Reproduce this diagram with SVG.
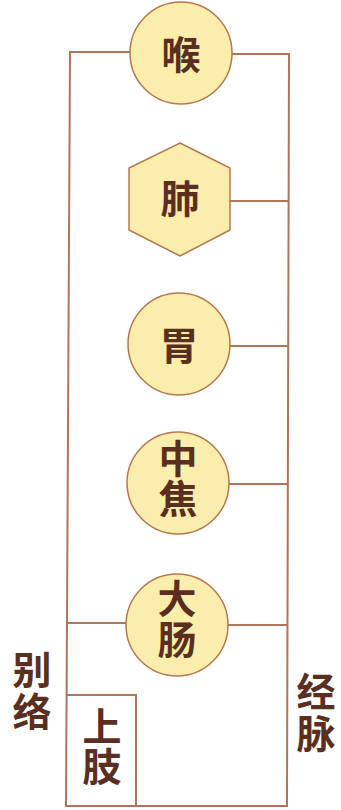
<svg xmlns="http://www.w3.org/2000/svg" width="341" height="810" viewBox="0 0 341 810">
<style>
.ln{fill:none;stroke:#b0735c;stroke-width:2}
.nd{fill:#fbeeac;stroke:#b5774f;stroke-width:1.5}
.t{font-family:"Liberation Serif","Noto Sans CJK SC",serif;font-size:39px;fill:#5a2f1f;text-anchor:middle;dominant-baseline:central;font-weight:600}
</style>
<rect width="341" height="810" fill="#ffffff"/>
<g id="connectors">
<polyline class="ln" points="130,52 70,52 66,806 287,806 289,54 232,54"/>
<line class="ln" x1="230" y1="201" x2="288" y2="201"/>
<line class="ln" x1="230" y1="346" x2="288" y2="346"/>
<line class="ln" x1="229" y1="484" x2="287" y2="484"/>
<line class="ln" x1="67" y1="623" x2="126" y2="623"/>
<line class="ln" x1="228" y1="625" x2="287" y2="625"/>
</g>
<g id="hou"><circle class="nd" cx="181" cy="53" r="51"/><text class="t" x="181" y="55">喉</text></g>
<g id="fei"><polygon class="nd" points="180,143 230,168 230,230 180,256 129,230 129,168"/><text class="t" x="180" y="199">肺</text></g>
<g id="wei"><circle class="nd" cx="179" cy="344" r="51"/><text class="t" x="179" y="346">胃</text></g>
<g id="zhongjiao"><circle class="nd" cx="178" cy="483" r="51"/><text class="t" x="178" y="459">中</text><text class="t" x="178" y="499">焦</text></g>
<g id="dachang"><circle class="nd" cx="177" cy="625" r="51"/><text class="t" x="177" y="599">大</text><text class="t" x="177" y="640">肠</text></g>
<g id="shangzhi"><polyline class="ln" points="67,695 136,695 136,806"/><text class="t" x="102" y="727">上</text><text class="t" x="102" y="767">肢</text></g>
<g id="bieluo"><text class="t" x="32" y="670">别</text><text class="t" x="32" y="712">络</text></g>
<g id="jingmai"><text class="t" x="316" y="692">经</text><text class="t" x="316" y="734">脉</text></g>
</svg>
